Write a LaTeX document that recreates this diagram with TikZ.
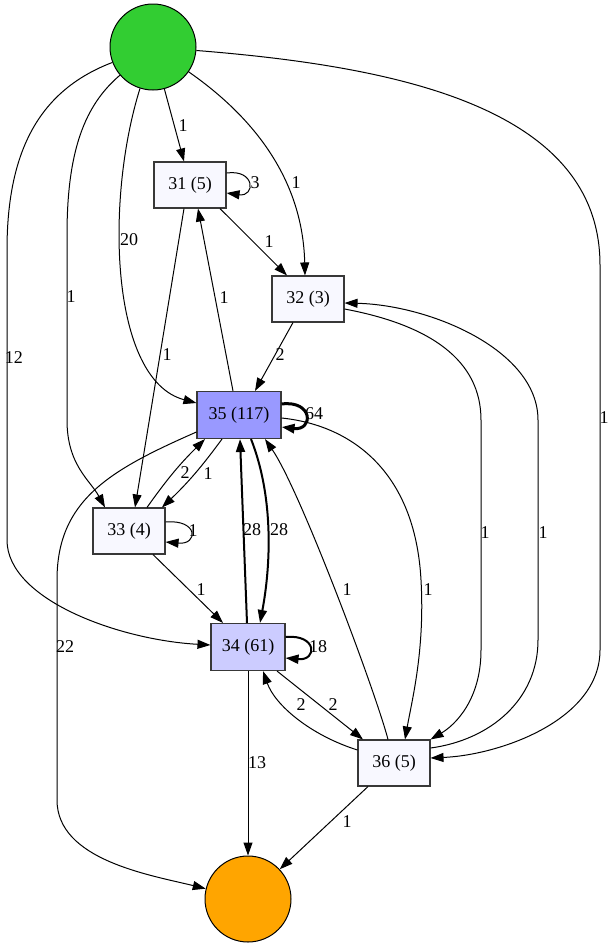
\documentclass[tikz,border=0pt]{standalone}
\usepackage{fontspec}
\setmainfont{Liberation Serif}
\usetikzlibrary{arrows.meta,calc}
\definecolor{boxwhite}{HTML}{F8F8FF}
\definecolor{box35}{HTML}{9999FF}
\definecolor{box34}{HTML}{CCCCFF}
\definecolor{startgreen}{HTML}{32CD32}
\definecolor{endorange}{HTML}{FFA500}
\definecolor{border}{HTML}{383838}
\begin{document}
\begin{tikzpicture}[x=1pt,y=-1pt,
  font=\fontsize{18}{20}\selectfont,
  stbox/.style={draw=border,line width=1.1pt,rectangle,minimum width=72pt,minimum height=46pt,inner sep=0pt,fill=boxwhite},
  circ/.style={draw=black,line width=1pt,circle,minimum size=86pt,inner sep=0pt},
  arr/.style={draw=black,line width=1pt,-{Triangle[length=13pt,width=9pt]}},
  thk/.style={line width=2pt},
  thkk/.style={line width=3pt},
  lbl/.style={inner sep=0pt,anchor=center}]
\useasboundingbox (0,0) rectangle (615,948);
\fill[white] (0,0) rectangle (615,948);

\node[circ,fill=startgreen] (g) at (153,47) {};
\node[circ,fill=endorange] (o) at (248,899) {};
\node[stbox] (n31) at (190,185) {31 (5)};
\node[stbox] (n32) at (308,299) {32 (3)};
\node[stbox,fill=box35,minimum width=84pt,minimum height=47pt] (n35) at (239,415) {35 (117)};
\node[stbox] (n33) at (129,531) {33 (4)};
\node[stbox,fill=box34,minimum width=74pt,minimum height=47pt] (n34) at (248,647) {34 (61)};
\node[stbox] (n36) at (394,763) {36 (5)};

% edges from start
\draw[arr] (g) -- ([xshift=-6pt]n31.north);
\draw[arr] (g) .. controls (265,125) and (303,190) .. ([xshift=-3pt]n32.north);
\draw[arr] (g) .. controls (105,200) and (110,380) .. ([yshift=12pt]n35.west);
\draw[arr] (g) .. controls (85,105) and (67,150) .. (67,235) -- (67,420) .. controls (67,465) and (90,480) .. ([xshift=-24pt]n33.north);
\draw[arr] (g) .. controls (40,90) and (7,150) .. (7,250) -- (7,540) .. controls (7,600) and (120,640) .. ([yshift=2pt]n34.west);
\draw[arr] (g) .. controls (390,66) and (600,105) .. (600,265) -- (600,650) .. controls (600,720) and (500,755) .. ([yshift=5pt]n36.east);

% loops
\draw[arr] ([yshift=12pt]n31.east) .. controls +(29,-4) and +(29,4) .. ([yshift=-8pt]n31.east);
\draw[arr,thkk] ([yshift=11pt]n35.east) .. controls +(32,-4) and +(32,4) .. ([yshift=-12pt]n35.east);
\draw[arr] ([yshift=9pt]n33.east) .. controls +(33,-3) and +(33,3) .. ([yshift=-11pt]n33.east);
\draw[arr,thk] ([yshift=10pt]n34.east) .. controls +(32,-3) and +(32,3) .. ([yshift=-11pt]n34.east);

% inner edges
\draw[arr] ([xshift=30pt]n31.south) -- ([xshift=-21pt]n32.north);
\draw[arr] ([xshift=-6pt]n31.south) -- ([xshift=6pt]n33.north);
\draw[arr] ([xshift=-6pt]n35.north) -- ([xshift=8pt]n31.south);
\draw[arr] ([xshift=-15pt]n32.south) -- ([xshift=16pt]n35.north);
\draw[arr] ([xshift=18pt]n33.north) to[bend left=5] ([xshift=-34pt]n35.south);
\draw[arr] ([xshift=-17pt]n35.south) to[bend left=5] ([xshift=33pt]n33.north);
\draw[arr,thk] ([xshift=-1pt]n34.north) -- ([xshift=1pt]n35.south);
\draw[arr,thk] ([xshift=12pt]n35.south) .. controls (275,500) and (270,570) .. ([xshift=12pt]n34.north);
\draw[arr] ([xshift=24pt]n33.south) -- ([xshift=-25pt]n34.north);
\draw[arr] ([yshift=-3pt]n35.east) .. controls (350,425) and (415,470) .. (421,580) .. controls (425,650) and (412,700) .. ([xshift=11pt]n36.north);
\draw[arr] ([xshift=-6pt]n36.north) .. controls (375,690) and (300,490) .. ([xshift=26pt]n35.south);
\draw[arr] ([yshift=-10pt]n32.east) .. controls (430,325) and (481,360) .. (481,420) -- (481,650) .. controls (481,700) and (455,725) .. (n36.north east);
\draw[arr] ([yshift=15pt]n36.east) .. controls (490,740) and (538,700) .. (538,640) -- (538,420) .. controls (538,350) and (430,305) .. ([yshift=-4pt]n32.east);
\draw[arr] ([xshift=29pt]n34.south) -- ([xshift=-31pt]n36.north);
\draw[arr] ([yshift=13pt]n36.west) .. controls (310,735) and (275,705) .. ([xshift=15pt]n34.south);
\draw[arr] (n34) -- (o);
\draw[arr] ([xshift=-26pt]n36.south) -- (o);
\draw[arr] ([yshift=-17pt]n35.west) .. controls (110,470) and (57,500) .. (57,580) -- (57,800) .. controls (57,860) and (150,875) .. (o);

% labels
\node[lbl] (l1) at (183,126) {1};
\node[lbl] (l2) at (296,183) {1};
\node[lbl] (l3) at (129,240) {20};
\node[lbl] (l4) at (71,297) {1};
\node[lbl] (l5) at (14,358) {12};
\node[lbl] (l6) at (604,418) {1};
\node[lbl] (l7) at (255,183) {3};
\node[lbl] (l8) at (269,242) {1};
\node[lbl] (l9) at (167,355) {1};
\node[lbl] (l10) at (224,298) {1};
\node[lbl] (l11) at (280,355) {2};
\node[lbl] (l12) at (314,414) {64};
\node[lbl] (l13) at (185,473) {2};
\node[lbl] (l14) at (208,474) {1};
\node[lbl] (l15) at (193,531) {1};
\node[lbl] (l16) at (201,590) {1};
\node[lbl] (l17) at (252,530) {28};
\node[lbl] (l18) at (279,530) {28};
\node[lbl] (l19) at (428,590) {1};
\node[lbl] (l20) at (347,590) {1};
\node[lbl] (l21) at (485,533) {1};
\node[lbl] (l22) at (543,533) {1};
\node[lbl] (l23) at (318,647) {18};
\node[lbl] (l24) at (301,705) {2};
\node[lbl] (l25) at (333,705) {2};
\node[lbl] (l26) at (257,763) {13};
\node[lbl] (l27) at (347,822) {1};
\node[lbl] (l28) at (65,647) {22};
\end{tikzpicture}
\end{document}
